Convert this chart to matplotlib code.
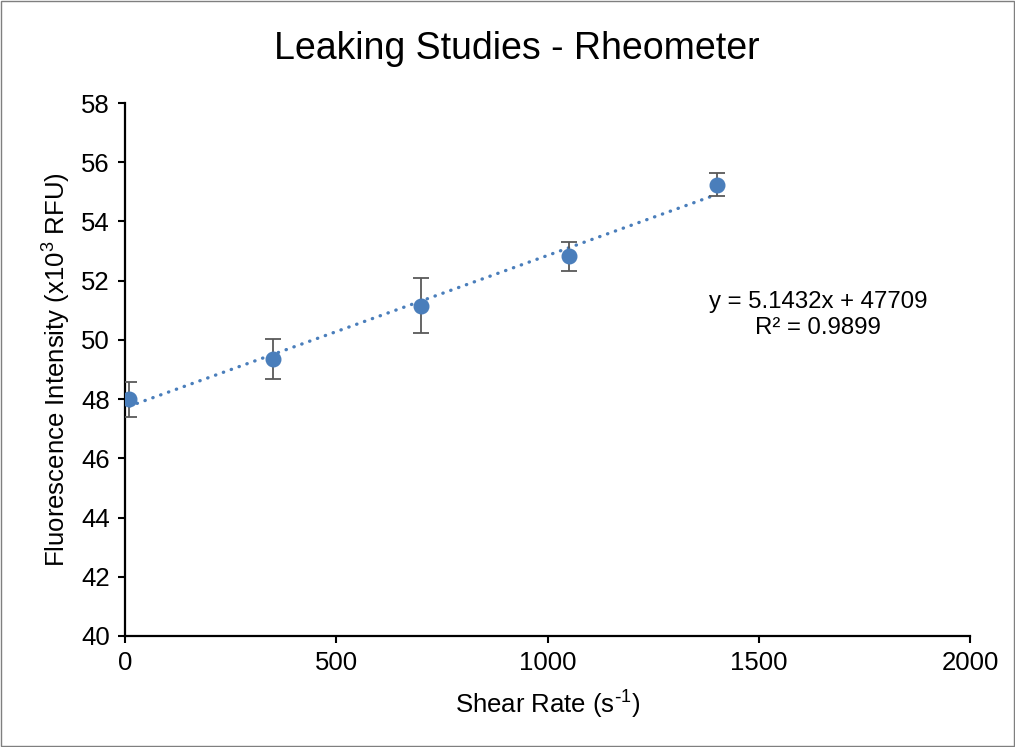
import matplotlib
matplotlib.use("Agg")
import matplotlib.pyplot as plt
from matplotlib.patches import Rectangle

plt.rcParams['font.family'] = ['Liberation Sans', 'DejaVu Sans']
plt.rcParams['mathtext.default'] = 'regular'

# data (y in x10^3 RFU)
shear_rate = [10, 350, 700, 1050, 1400]
intensity = [48.0, 49.35, 51.15, 52.83, 55.24]
error = [0.59, 0.68, 0.93, 0.49, 0.39]

# excel trendline (RFU), converted to x10^3
slope = 5.1432
intercept = 47709
eq_text = "y = 5.1432x + 47709\nR² = 0.9899"

blue = '#4a7ebb'

fig = plt.figure(figsize=(10.15, 7.47), dpi=100)
ax = fig.add_axes([0.1232, 0.1486, 0.8325, 0.7135])

# trendline from first to last point
tx = [shear_rate[0], shear_rate[-1]]
ty = [(slope * x + intercept) / 1000 for x in tx]
ax.plot(tx, ty, color=blue, lw=2.4, linestyle=(0, (0.1, 2.4)),
        dash_capstyle='round', zorder=2)

ax.errorbar(shear_rate, intensity, yerr=error, fmt='o', color=blue,
            markersize=10.5, ecolor='#595959', elinewidth=1.3, capsize=6,
            capthick=1.3, zorder=3)

ax.text(1640, 50.85, eq_text, ha='center', va='center', fontsize=17.3,
        linespacing=1.25)

ax.set_xlim(0, 2000)
ax.set_ylim(40, 58)
ax.set_xticks(range(0, 2001, 500))
ax.set_yticks(range(40, 59, 2))
ax.tick_params(direction='out', length=5, width=1.5, labelsize=18.5, pad=6)
for side in ['top', 'right']:
    ax.spines[side].set_visible(False)
for side in ['left', 'bottom']:
    ax.spines[side].set_linewidth(1.6)

ax.set_xlabel(r"Shear Rate (s$^{\text{-}1}$)", fontsize=18.5, labelpad=10)
ax.set_ylabel("Fluorescence Intensity (x10$^{3}$ RFU)", fontsize=18.5, labelpad=6)
fig.text(0.509, 0.934, "Leaking Studies - Rheometer", ha='center', va='center',
         fontsize=27)

# thin chart border
fig.patches.append(Rectangle((0.001, 0.001), 0.998, 0.998, transform=fig.transFigure,
                             fill=False, edgecolor='#7f7f7f', lw=1))

fig.savefig('out.png', dpi=100)
